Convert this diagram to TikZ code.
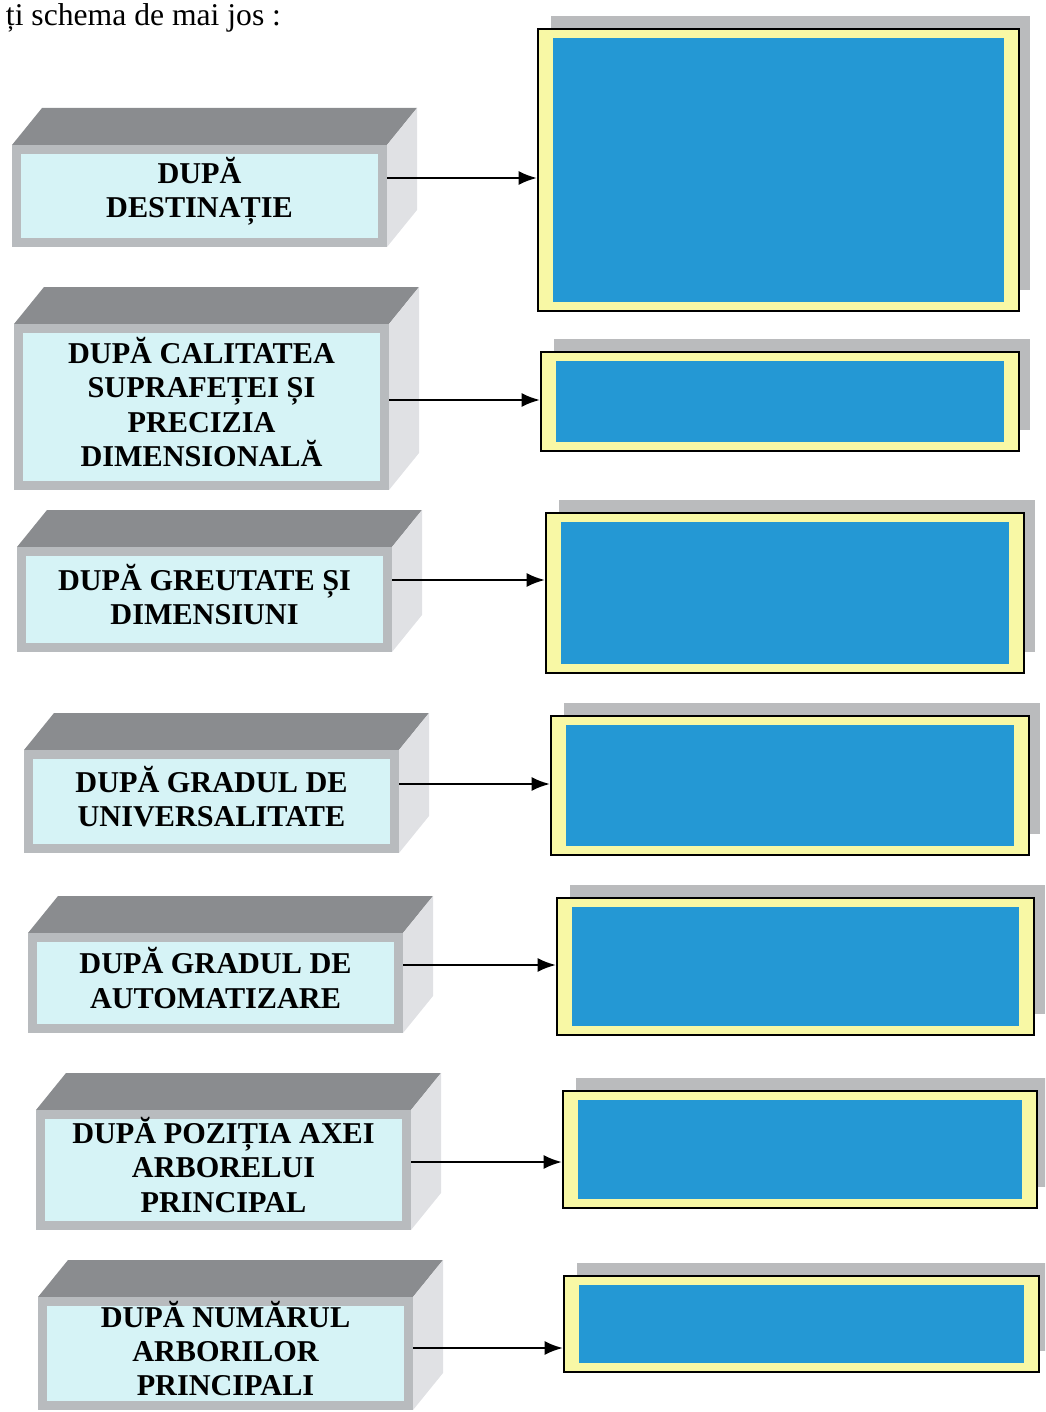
\documentclass[tikz,border=0pt]{standalone}
\usepackage{fontspec}
\setmainfont{Liberation Serif}
\usetikzlibrary{arrows.meta,calc}

\definecolor{panelcyan}{RGB}{214,243,246}
\definecolor{framegray}{RGB}{184,187,190}
\definecolor{topgray}{RGB}{138,140,143}
\definecolor{sidegray}{RGB}{224,225,228}
\definecolor{ansyellow}{RGB}{248,248,165}
\definecolor{ansblue}{RGB}{36,152,212}
\definecolor{backgray}{RGB}{186,187,189}

\begin{document}
\begin{tikzpicture}[x=0.025cm, y=-0.025cm,
    face/.style={rectangle, fill=panelcyan, draw=framegray, line width=0.225cm,
        anchor=north west, inner sep=0pt},
    facetext/.style={align=center, inner sep=0pt,
        font=\fontsize{21.5}{24.3}\selectfont\bfseries},
    answer/.style={rectangle, fill=ansyellow, draw=black, line width=0.05cm,
        anchor=north west, inner sep=0pt},
    link/.style={-{Latex[length=13pt,width=10pt]}, line width=1.8pt}]
    \useasboundingbox (0,0) rectangle (1045,1412);
    \clip (0,0) rectangle (1045,1412);

    \node[anchor=base west, font=\fontsize{22.5}{26}\selectfont] (title) at (1,26) {ți schema de mai jos :};

    % row: index / block x / block y / block height / arrow y / answer x / answer y / answer width / answer height / text
    \foreach \k/\lx/\ly/\lh/\ay/\rx/\ry/\rw/\rh/\txt in {
        1/12/145/102/178/537/28/483/284/{DUPĂ\\DESTINAȚIE},
        2/14/324/166/400/540/351/480/101/{DUPĂ CALITATEA\\SUPRAFEȚEI ȘI\\PRECIZIA\\DIMENSIONALĂ},
        3/17/547/105/580/545/512/480/162/{DUPĂ GREUTATE ȘI\\DIMENSIUNI},
        4/24/750/103/784/550/715/480/141/{DUPĂ GRADUL DE\\UNIVERSALITATE},
        5/28/933/100/965/556/897/479/139/{DUPĂ GRADUL DE\\AUTOMATIZARE},
        6/36/1110/120/1162/562/1090/476/119/{DUPĂ POZIȚIA AXEI\\ARBORELUI\\PRINCIPAL},
        7/38/1297/113/1348/563/1275/477/98/{DUPĂ NUMĂRUL\\ARBORILOR\\PRINCIPALI}}{
        % block on the left
        \fill[topgray] (\lx,\ly) -- ++(30,-37) -- ++(375,0) -- ++(-30,37) -- cycle;
        \fill[sidegray] (\lx+375,\ly) -- ++(30,-37) -- ++(0,\lh) -- ++(-30,37) -- cycle;
        \node[face, minimum width=366*0.025cm, minimum height=(\lh-9)*0.025cm] (L\k) at (\lx,\ly) {};
        \node[facetext] (T\k) at ($(L\k.center)+(0,-5)$) {\txt};
        % empty box on the right
        \fill[backgray] (\rx+14,\ry-12) rectangle ++(\rw-4,\rh-10);
        \node[answer, minimum width=(\rw-2)*0.025cm, minimum height=(\rh-2)*0.025cm] (R\k) at (\rx,\ry) {};
        \fill[ansblue] ($(R\k.north west)+(16,10)$) rectangle ($(R\k.south east)+(-16,-10)$);
        \draw[link] (L\k.east |- 0,\ay) -- (R\k.west |- 0,\ay);
    }
\end{tikzpicture}
\end{document}
